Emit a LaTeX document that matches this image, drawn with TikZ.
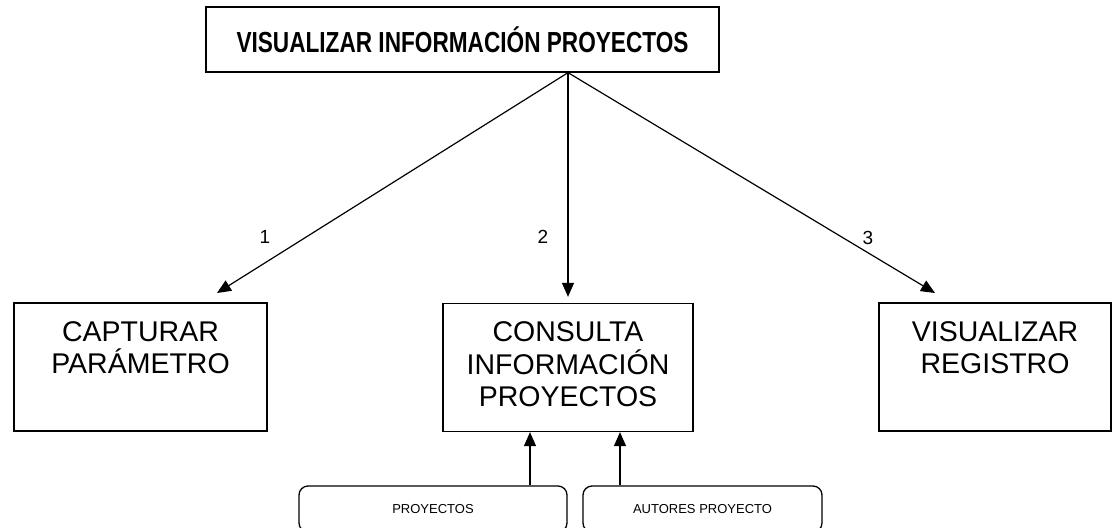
\documentclass[tikz,border=0pt]{standalone}
\usepackage{fontspec}
\setmainfont{Liberation Sans}
\newfontfamily\titlefont[FakeStretch=0.78]{Liberation Sans Bold}
\usetikzlibrary{arrows.meta,positioning,calc}

\begin{document}
\begin{tikzpicture}[x=1pt,y=-1pt,
  blk/.style={draw, line width=1.3pt, rectangle, minimum height=128pt, inner sep=0pt},
  txt/.style={align=center, inner sep=0pt, anchor=north,
              font=\fontsize{28.5}{32.5}\selectfont},
  hd/.style={draw, line width=1.3pt, rectangle, minimum width=513pt, minimum height=65pt,
             font=\titlefont\fontsize{29}{32}\selectfont},
  tbl/.style={draw, line width=1.3pt, rectangle, rounded corners=9pt, minimum height=46pt,
              font=\fontsize{13}{15}\selectfont},
  ar/.style={-{Triangle[length=14pt,width=12pt]}, line width=1.2pt},
  lb/.style={font=\fontsize{19}{21}\selectfont, inner sep=0pt},
]
\useasboundingbox (0,0) rectangle (1115,527);

\node[hd] (vis) at (462.5,39.5) {VISUALIZAR INFORMACIÓN PROYECTOS};

\node[blk, minimum width=253pt] (capt) at (140.5,367) {};
\node[txt] (captT) at ([yshift=-19pt]capt.north) {CAPTURAR\\PARÁMETRO};
\node[blk, minimum width=250pt] (cons) at (568,367.5) {};
\node[txt] (consT) at ([yshift=-19pt]cons.north) {CONSULTA\\INFORMACIÓN\\PROYECTOS};
\node[blk, minimum width=232pt] (visr) at (995,367) {};
\node[txt] (visrT) at ([yshift=-19pt]visr.north) {VISUALIZAR\\REGISTRO};

\node[tbl, minimum width=268pt] (proy) at (433,509) {PROYECTOS};
\node[tbl, minimum width=239pt] (auto) at (702.5,509) {AUTORES PROYECTO};

% salidas del modulo principal
\coordinate (src) at (vis.south -| cons.north);
\coordinate (t1) at (217,293);
\coordinate (t3) at (935,293);
\draw[ar] (src) -- (t1);
\draw[ar, shorten >=6pt] (src) -- (cons.north);
\draw[ar] (src) -- (t3);
\node[lb] (n1) at (265,237) {1};
\node[lb] (n2) at (543,237) {2};
\node[lb] (n3) at (868,237.5) {3};

% tablas de consulta
\draw[ar] ([xshift=-38pt]cons.south |- proy.north) -- ([xshift=-38pt]cons.south);
\draw[ar] ([xshift=52pt]cons.south |- auto.north) -- ([xshift=52pt]cons.south);
\end{tikzpicture}
\end{document}
